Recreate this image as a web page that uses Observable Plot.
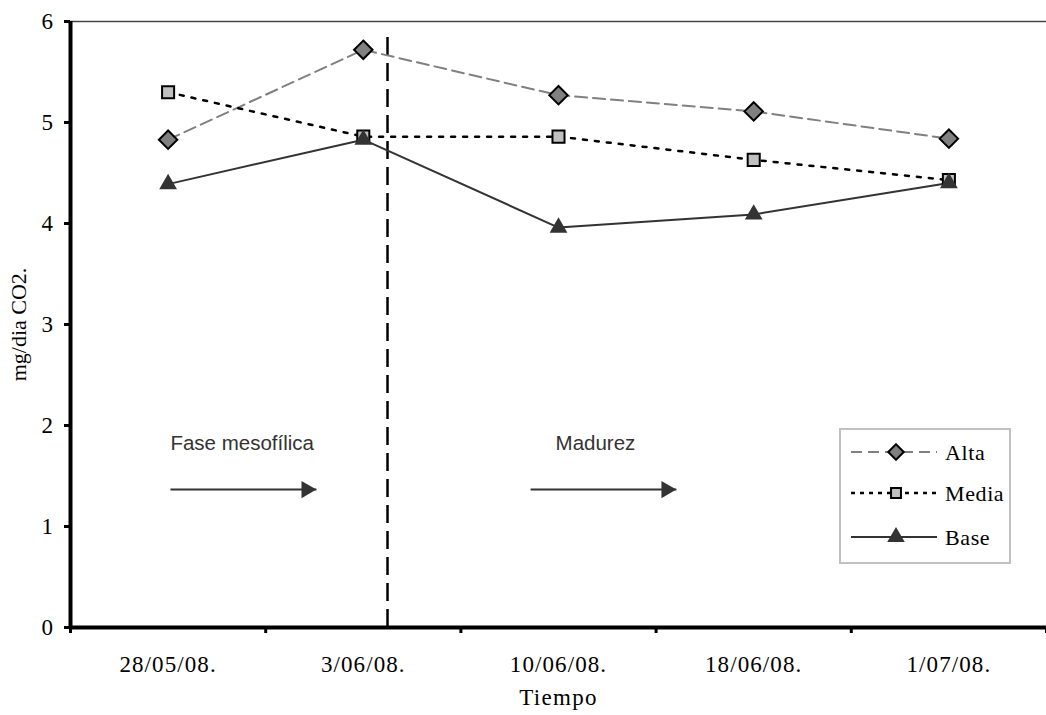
<!DOCTYPE html>
<html><head><meta charset="utf-8">
<script src="https://cdn.jsdelivr.net/npm/d3@7"></script>
<script src="https://cdn.jsdelivr.net/npm/@observablehq/plot@0.6"></script>
<style>
body{margin:0;background:#fff;}
#chart{position:relative;width:1046px;height:715px;}
#legend{position:absolute;left:839px;top:428px;}
#chart svg g[aria-label="x-axis tick label"] text{letter-spacing:1.1px;}
#chart svg g[aria-label="y-axis tick label"] text{letter-spacing:0.5px;}
</style></head><body><div id="chart"></div>
<script>
// ---- data ----
const fechas = ["28/05/08.", "3/06/08.", "10/06/08.", "18/06/08.", "1/07/08."];
const alta  = [4.83, 5.72, 5.27, 5.11, 4.84];
const media = [5.30, 4.86, 4.86, 4.63, 4.43];
const base  = [4.39, 4.83, 3.96, 4.09, 4.40];
const serieNombres = ["Alta", "Media", "Base"];
const yTicks = [0, 1, 2, 3, 4, 5, 6];
const ejeY = "mg/dia CO2.";
const ejeX = "Tiempo";
// annotations (x in category-index units, y in data units)
const separador = [{x: 1.124, y1: 0, y2: 5.88}];
const etiquetas = [{texto: "Fase mesofílica", x: 0.012, y: 1.82}, {texto: "Madurez", x: 1.985, y: 1.82}];
const flechas = [{x1: 0.012, x2: 0.76, y: 1.366}, {x1: 1.857, x2: 2.604, y: 1.366}];

// ---- styles ----
const serif = "'Liberation Serif','Times New Roman',serif";
const sans = "'Liberation Sans',Arial,sans-serif";
const estilos = [
  {values: alta,  stroke: "#808080", width: 2,   dash: "12,6", symbol: "diamond2", r: 8.3, fill: "#808080", mstroke: "#000", lr: 7},
  {values: media, stroke: "#000",    width: 2.5, dash: "4,8",  symbol: "square",   r: 6.8, fill: "#c0c0c0", mstroke: "#000", lr: 5.6},
  {values: base,  stroke: "#333",    width: 2,   dash: null,   symbol: "triangle", r: 6.6, fill: "#333",    mstroke: "none", lr: 6.5}
];

const idx = fechas.map((_, i) => i);
const bordes = idx.map(i => i - 0.5).concat([idx.length - 0.5]);
const rows = s => idx.map(i => ({i, v: s[i]}));

const marks = [
  Plot.ruleY([yTicks[yTicks.length - 1]], {stroke: "#444", strokeWidth: 1.5}),
  Plot.axisY({ticks: yTicks, tickSize: 6, tickPadding: 11, strokeWidth: 3, label: null, fontSize: 23, tickFormat: d => String(d)}),
  Plot.axisX({ticks: idx, tickSize: 0, tickPadding: 28, tickFormat: i => fechas[i], label: null, fontSize: 23}),
  Plot.axisX({ticks: bordes, tickSize: 6, tickFormat: () => "", strokeWidth: 3, label: null}),
  Plot.ruleX(separador, {x: "x", y1: "y1", y2: "y2", stroke: "#000", strokeWidth: 2.5, strokeDasharray: "18,8"})
];
estilos.forEach(s => marks.push(Plot.line(rows(s.values), {x: "i", y: "v", stroke: s.stroke, strokeWidth: s.width, strokeDasharray: s.dash || undefined})));
estilos.forEach(s => marks.push(Plot.dot(rows(s.values), {x: "i", y: "v", symbol: s.symbol, r: s.r, fill: s.fill, stroke: s.mstroke, strokeWidth: 2})));
marks.push(
  Plot.ruleX([bordes[0]], {stroke: "#000", strokeWidth: 4}),
  Plot.ruleY([0], {stroke: "#000", strokeWidth: 4}),
  Plot.text(etiquetas, {x: "x", y: "y", text: "texto", textAnchor: "start", fontFamily: sans, fontSize: 20.5, fill: "#333"}),
  Plot.link(flechas, {x1: "x1", x2: "x2", y1: "y", y2: "y", stroke: "#333", strokeWidth: 2}),
  Plot.dot(flechas, {x: "x2", y: "y", symbol: "triangle", r: 6.4, rotate: 90, fill: "#333", dx: -10}),
  Plot.text([ejeY], {text: d => d, frameAnchor: "left", textAnchor: "middle", lineAnchor: "middle", rotate: -90, dx: -52, fontSize: 22}),
  Plot.text([ejeX], {text: d => d, frameAnchor: "bottom", textAnchor: "middle", lineAnchor: "middle", dy: 70, fontSize: 23})
);

const plot = Plot.plot({
  width: 1046, height: 715,
  marginLeft: 70, marginRight: 0, marginTop: 21, marginBottom: 88,
  style: {fontFamily: serif, fontSize: "22px", color: "#000", background: "#fff", overflow: "visible"},
  x: {type: "linear", domain: [bordes[0], bordes[bordes.length - 1]]},
  y: {domain: [0, 6]},
  marks
});
d3.select(plot).selectAll("text").filter(function () { return this.textContent === ejeX; }).attr("letter-spacing", "1.3px");
document.getElementById("chart").appendChild(plot);

// ---- legend ----
const symMap = {diamond2: d3.symbolDiamond2, square: d3.symbolSquare, triangle: d3.symbolTriangle};
const leg = d3.create("svg").attr("id", "legend").attr("width", 172).attr("height", 136);
leg.append("rect").attr("x", 1).attr("y", 1).attr("width", 170).attr("height", 134)
  .attr("fill", "#fff").attr("stroke", "#c0c0c0").attr("stroke-width", 2);
const rowY = [24, 65, 109];
estilos.forEach((s, k) => {
  const g = leg.append("g").attr("transform", `translate(0,${rowY[k]})`);
  g.append("line").attr("x1", 12).attr("x2", 98).attr("stroke", s.stroke)
    .attr("stroke-width", s.width).attr("stroke-dasharray", s.dash ? (k === 1 ? "4,5" : "11,6") : null);
  g.append("path").attr("transform", "translate(57,0)")
    .attr("d", d3.symbol(symMap[s.symbol], Math.PI * s.lr * s.lr)())
    .attr("fill", s.fill).attr("stroke", s.mstroke).attr("stroke-width", 2);
  g.append("text").attr("x", 106).attr("dy", "0.35em").attr("font-family", serif)
    .attr("font-size", 22).attr("letter-spacing", "0.6px").text(serieNombres[k]);
});
document.getElementById("chart").appendChild(leg.node());
</script></body></html>
